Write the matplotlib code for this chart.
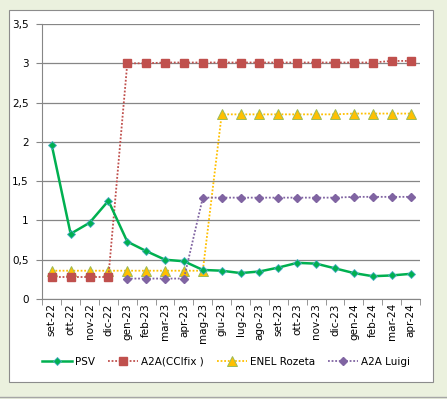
import matplotlib.pyplot as plt
from matplotlib.patches import Rectangle
from matplotlib.ticker import FuncFormatter
import numpy as np

months = ["set-22", "ott-22", "nov-22", "dic-22", "gen-23", "feb-23", "mar-23", "apr-23",
          "mag-23", "giu-23", "lug-23", "ago-23", "set-23", "ott-23", "nov-23", "dic-23",
          "gen-24", "feb-24", "mar-24", "apr-24"]
psv = [1.96, 0.83, 0.97, 1.25, 0.73, 0.61, 0.50, 0.48, 0.37, 0.36,
       0.33, 0.35, 0.40, 0.46, 0.45, 0.39, 0.33, 0.29, 0.30, 0.32]
a2a_ccifix = [0.28, 0.28, 0.28, 0.28, 3.00, 3.00, 3.01, 3.01, 3.01, 3.01,
              3.01, 3.01, 3.01, 3.01, 3.01, 3.01, 3.01, 3.01, 3.03, 3.03]
enel = [0.36, 0.36, 0.36, 0.36, 0.36, 0.36, 0.36, 0.36, 0.36, 2.35,
        2.35, 2.35, 2.35, 2.35, 2.35, 2.35, 2.36, 2.36, 2.36, 2.36]
a2a_luigi = [None, None, None, None, 0.26, 0.26, 0.26, 0.26, 1.29, 1.29,
             1.29, 1.29, 1.29, 1.29, 1.29, 1.29, 1.30, 1.30, 1.30, 1.30]

x = np.arange(len(months))
luigi = np.array([np.nan if v is None else v for v in a2a_luigi])

fig = plt.figure(figsize=(4.47, 3.99), dpi=100)
fig.patch.set_facecolor("#EBF1DE")
# white chart area with gray border
fig.patches.append(Rectangle((9 / 447, 1 - 382 / 399), 424 / 447, 372 / 399,
                             transform=fig.transFigure, facecolor="white",
                             edgecolor="#8C8C8C", linewidth=0.8, zorder=-5))
fig.lines.append(plt.Line2D([0, 1], [1 - 397 / 399] * 2, transform=fig.transFigure,
                            color="#A6A6A6", linewidth=1, zorder=-5))

ax = fig.add_axes([42.3 / 447, 1 - 299 / 399, (420 - 42.3) / 447, (299 - 24) / 399])
ax.set_facecolor("none")

ax.plot(x, psv, color="#00B050", linewidth=1.8, marker="D", markersize=4.5,
        markerfacecolor="#00B050", markeredgecolor="#4BACC6", markeredgewidth=0.6,
        label="PSV", zorder=5)
ax.plot(x, a2a_ccifix, color="#C0504D", linewidth=1.3, linestyle=(0, (1, 1)),
        marker="s", markersize=5.8, markerfacecolor="#C0504D", markeredgecolor="#C0504D",
        label="A2A(CCIfix )", zorder=4)
ax.plot(x, enel, color="#FFC000", linewidth=1.3, linestyle=(0, (1, 1)),
        marker="^", markersize=6.5, markerfacecolor="#FFC000", markeredgecolor="#9BBB59",
        markeredgewidth=0.7, label="ENEL Rozeta", zorder=3)
ax.plot(x, luigi, color="#8064A2", linewidth=1.3, linestyle=(0, (1, 1)),
        marker="D", markersize=4.5, markerfacecolor="#8064A2", markeredgecolor="#8064A2",
        label="A2A Luigi", zorder=4)

ax.set_xlim(-0.5, len(months) - 0.5)
ax.set_ylim(0, 3.5)
ax.set_yticks(np.arange(0, 3.51, 0.5))
ax.yaxis.set_major_formatter(FuncFormatter(lambda v, p: f"{v:g}".replace(".", ",")))
ax.grid(axis="y", color="#868686", linewidth=0.9)
ax.set_axisbelow(True)

ax.set_xticks(x)
ax.set_xticklabels(months, rotation=90, fontsize=7.5)
ax.set_xticks(np.arange(-0.5, len(months)), minor=True)
ax.tick_params(axis="x", which="major", length=0, pad=3)
ax.tick_params(axis="x", which="minor", length=4, color="#868686")
ax.tick_params(axis="y", labelsize=7.5, length=4, color="#868686", pad=6)

for s in ["top", "right"]:
    ax.spines[s].set_visible(False)
for s in ["left", "bottom"]:
    ax.spines[s].set_color("#868686")

fig.legend(loc="center", bbox_to_anchor=(226 / 447, 1 - 362 / 399), ncol=4,
           frameon=False, fontsize=7.5, handlelength=2.9, handletextpad=0.3,
           columnspacing=1.2)

fig.savefig("out.png", dpi=100, facecolor=fig.get_facecolor())
